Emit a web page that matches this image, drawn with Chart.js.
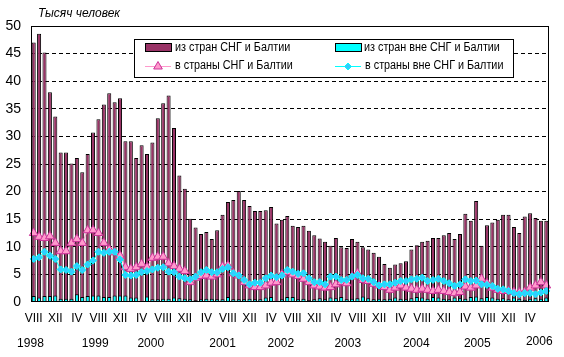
<!DOCTYPE html>
<html><head><meta charset="utf-8">
<script src="https://cdn.jsdelivr.net/npm/chart.js@4/dist/chart.umd.min.js"></script>
<style>html,body{margin:0;padding:0;background:#fff;}#wrap{width:564px;height:357px;position:relative;}</style>
</head><body><div id="wrap"><canvas id="c" width="564" height="357"></canvas></div>
<script>
// Months: August 1998 .. July 2006
const romanMonths = ['I','II','III','IV','V','VI','VII','VIII','IX','X','XI','XII'];
const startMonthIndex = 7; // VIII
const monthCount = 96;
const categories = [];
for (let i = 0; i < monthCount; i++) categories.push(romanMonths[(startMonthIndex + i) % 12]);

const yearLabels = ['1998','1999','2000','2001','2002','2003','2004','2005','2006'];

// из стран СНГ и Балтии (bars)
const fromCIS = [
  47.0, 48.6, 45.2, 38.0, 33.6, 27.1, 27.1, 25.1, 26.1, 23.5, 26.8, 30.7, 33.1, 35.8, 37.8, 36.2,
  36.9, 29.1, 29.1, 26.1, 28.4, 26.8, 28.9, 33.3, 36.0, 37.4, 31.5, 22.9, 20.5, 15.1, 13.5, 12.3, 12.7,
  11.4, 13.0, 15.8, 18.1, 18.5, 20.1, 18.5, 17.4, 16.5, 16.5, 16.6, 17.2, 14.2, 14.9, 15.6, 13.8,
  13.6, 13.8, 12.9, 12.1, 11.5, 10.9, 10.2, 11.6, 9.9, 9.8, 11.4, 10.9, 9.9, 9.5, 8.9, 8.2,
  6.9, 6.2, 6.8, 7.0, 7.4, 9.5, 10.3, 10.9, 11.1, 11.6, 11.6, 12.1, 12.5, 11.4, 12.3, 16.0,
  14.7, 18.3, 10.2, 13.9, 14.4, 14.9, 15.8, 15.8, 13.6, 12.5, 15.5, 16.1, 15.2, 14.7, 14.7
];
// из стран вне СНГ и Балтии (bars)
const fromNonCIS = [
  1.1, 0.8, 1.1, 1.1, 1.2, 0.6, 0.6, 0.6, 1.4, 0.9, 1.1, 1.2, 1.2, 0.9, 0.9, 1.2, 1.2, 1.2, 0.8, 0.8,
  0.2, 1.0, 0.5, 0.5, 0.6, 0.6, 0.8, 0.7, 0.6, 0.5, 0.3, 0.5, 0.6,
  0.6, 0.5, 0.5, 0.9, 0.5, 0.5, 0.5, 0.6, 0.5, 0.5, 0.8, 0.9, 0.2, 0.5, 0.9, 0.9, 0.5, 0.6, 0.3, 0.5,
  0.7, 0.5, 0.8, 0.7, 0.9, 0.5, 0.6, 0.7, 1.0, 0.7, 0.5, 0.6,
  0.5, 0.6, 0.8, 0.6, 0.5, 0.7, 0.9, 0.8, 0.6, 0.9, 0.8, 0.6, 0.5, 0.8, 0.7, 0.6, 0.9, 1.0, 0.7, 0.9,
  0.8, 0.6, 0.7, 0.5, 0.8, 0.6, 0.4, 0.6, 0.7, 0.6, 0.8
];
// в страны СНГ и Балтии (line, triangles)
const toCIS = [
  12.5, 11.8, 11.6, 11.9, 10.7, 9.2, 9.2, 10.7, 11.4, 10.7, 13.0, 13.0, 12.5, 10.7, 9.5, 9.0, 8.4,
  6.3, 6.0, 6.3, 6.9, 6.3, 8.0, 8.2, 8.2, 7.0, 6.5, 6.0, 5.6, 3.6, 4.4, 4.7,
  4.8, 4.6, 5.0, 6.4, 6.6, 5.2, 4.8, 3.6, 3.0, 2.7, 2.7, 3.0, 3.5, 3.6, 5.0, 5.4, 5.0, 4.7, 4.2,
  3.6, 3.0, 2.8, 2.6, 2.7, 3.2, 3.6, 3.4, 4.6, 5.2, 4.0, 3.8, 3.3, 3.0,
  2.7, 2.2, 2.6, 3.0, 2.6, 2.4, 2.2, 2.4, 2.2, 2.0, 2.2, 2.0, 1.8, 1.6, 1.8, 2.8, 2.6, 3.0, 4.2,
  3.4, 2.6, 2.2, 2.0, 2.0, 1.8, 1.7, 1.8, 2.6, 3.0, 3.6, 3.0
];
// в страны вне СНГ и Балтии (line, diamonds)
const toNonCIS = [
  7.8, 8.1, 9.1, 8.4, 7.8, 5.9, 5.8, 5.5, 6.5, 5.8, 6.8, 7.5, 9.1, 8.9, 9.1, 9.1, 7.7, 4.9, 4.8,
  4.9, 5.4, 5.6, 5.9, 6.2, 6.3, 5.5, 5.4, 4.6, 4.3, 4.1, 4.6, 5.4, 5.8,
  5.4, 5.4, 6.0, 6.3, 5.2, 4.8, 4.0, 3.2, 3.5, 3.5, 4.3, 4.8, 4.5, 4.8, 5.8, 5.5, 5.1, 5.2, 4.3,
  3.6, 3.6, 3.2, 4.6, 4.6, 4.0, 4.0, 4.6, 4.9, 4.3, 4.2, 3.6, 3.0,
  3.2, 3.2, 3.5, 3.8, 3.8, 4.1, 4.2, 4.4, 3.8, 4.0, 4.2, 3.8, 3.4, 2.9, 3.2, 4.1, 3.8, 3.9, 3.2,
  3.1, 2.9, 2.4, 2.3, 2.0, 1.6, 1.4, 1.6, 1.6, 1.4, 1.7, 2.0
];

const seriesNames = ['из стран СНГ и Балтии','из стран вне СНГ и Балтии','в страны СНГ и Балтии','в страны вне СНГ и Балтии'];
const unitLabel = 'Тысяч человек';

const C_MAROON = '#993366', C_CYAN = '#00FFFF', C_PINK = '#FF99CC', C_PINK_EDGE = '#CC3399',
      C_DIAM = '#33CCFF', C_DIAM_LINE = '#00FFFF';
const FONT = "'Liberation Sans', Arial, sans-serif";

// fractional category positions for the year captions
const yearLabelPos = [-0.6, 11.4, 21.7, 35.0, 45.8, 58.2, 70.9, 82.2, 93.7];

function drawTri(ctx, x, y, r) {
  ctx.beginPath();
  ctx.moveTo(x, y - r);
  ctx.lineTo(x + r * 0.866, y + r * 0.5);
  ctx.lineTo(x - r * 0.866, y + r * 0.5);
  ctx.closePath();
  ctx.fillStyle = C_PINK; ctx.fill();
  ctx.strokeStyle = C_PINK_EDGE; ctx.lineWidth = 1; ctx.stroke();
}
function drawDiam(ctx, x, y, r) {
  ctx.beginPath();
  ctx.moveTo(x, y - r); ctx.lineTo(x + r, y); ctx.lineTo(x, y + r); ctx.lineTo(x - r, y);
  ctx.closePath();
  ctx.fillStyle = C_DIAM; ctx.fill();
  ctx.strokeStyle = C_DIAM_LINE; ctx.lineWidth = 1; ctx.stroke();
}
function squeezedText(ctx, text, x, y, sx) {
  ctx.save();
  ctx.translate(x, y); ctx.scale(sx, 1);
  ctx.fillText(text, 0, 0);
  ctx.restore();
}

const decor = {
  id: 'decor',
  afterDatasetsDraw(chart) {
    const ctx = chart.ctx, a = chart.chartArea;
    ctx.save();
    ctx.strokeStyle = '#000'; ctx.lineWidth = 1;
    ctx.strokeRect(Math.round(a.left) + 0.5, Math.round(a.top) + 0.5, Math.round(a.right - a.left) - 1, Math.round(a.bottom - a.top) - 1);
    // legend
    const bx = 134.5, by = 39.5, bw = 379, bh = 38;
    ctx.fillStyle = '#fff'; ctx.fillRect(bx, by, bw, bh);
    ctx.strokeStyle = '#000'; ctx.strokeRect(bx, by, bw, bh);
    ctx.font = '12px ' + FONT; ctx.textBaseline = 'middle'; ctx.textAlign = 'left';
    const r1 = 48, r2 = 66, c1 = 145, c2 = 335, sw = 26;
    // row 1 bars
    ctx.fillStyle = C_MAROON; ctx.fillRect(c1 + 0.5, r1 - 4.5, sw, 8); ctx.strokeStyle = '#000'; ctx.strokeRect(c1 + 0.5, r1 - 4.5, sw, 8);
    ctx.fillStyle = C_CYAN; ctx.fillRect(c2 + 0.5, r1 - 4.5, sw, 8); ctx.strokeRect(c2 + 0.5, r1 - 4.5, sw, 8);
    ctx.fillStyle = '#000';
    squeezedText(ctx, seriesNames[0], c1 + 30, r1, 0.9);
    squeezedText(ctx, seriesNames[1], c2 + 29, r1, 0.9);
    // row 2 lines
    ctx.strokeStyle = C_PINK; ctx.beginPath(); ctx.moveTo(c1, r2 + 0.5); ctx.lineTo(c1 + sw, r2 + 0.5); ctx.stroke();
    drawTri(ctx, c1 + 13, r2 + 0.5, 5);
    ctx.strokeStyle = C_DIAM_LINE; ctx.beginPath(); ctx.moveTo(c2, r2 + 0.5); ctx.lineTo(c2 + sw, r2 + 0.5); ctx.stroke();
    drawDiam(ctx, c2 + 13, r2 + 0.5, 3.5);
    ctx.fillStyle = '#000';
    squeezedText(ctx, seriesNames[2], c1 + 30, r2, 0.9);
    squeezedText(ctx, seriesNames[3], c2 + 30, r2, 0.9);
    // unit caption
    ctx.font = 'italic 12px ' + FONT;
    ctx.fillText(unitLabel, 38, 14);
    // year captions
    ctx.font = '12px ' + FONT; ctx.textAlign = 'center';
    const xs = chart.scales.x;
    yearLabels.forEach((t, i) => {
      const x = xs.getPixelForValue(yearLabelPos[i]);
      ctx.fillText(t, x, i === yearLabels.length - 1 ? 342 : 344);
    });
    ctx.restore();
  }
};

new Chart(document.getElementById('c'), {
  data: {
    labels: categories,
    datasets: [
      { type: 'line', label: seriesNames[3], data: toNonCIS, order: 1, borderColor: C_DIAM_LINE, borderWidth: 1,
        pointStyle: 'rectRot', pointRadius: 3.5, pointBackgroundColor: C_DIAM, pointBorderColor: C_DIAM_LINE, pointBorderWidth: 1, tension: 0 },
      { type: 'line', label: seriesNames[2], data: toCIS, order: 2, borderColor: C_PINK, borderWidth: 1,
        pointStyle: 'triangle', pointRadius: 5, pointBackgroundColor: C_PINK, pointBorderColor: C_PINK_EDGE, pointBorderWidth: 1, tension: 0 },
      { type: 'bar', label: seriesNames[1], data: fromNonCIS, order: 3, backgroundColor: C_CYAN, borderColor: '#000', borderWidth: 1,
        categoryPercentage: 1, barPercentage: 0.75 },
      { type: 'bar', label: seriesNames[0], data: fromCIS, order: 4, backgroundColor: C_MAROON, borderColor: '#000', borderWidth: 1,
        categoryPercentage: 1, barPercentage: 0.75 }
    ]
  },
  options: {
    responsive: false, animation: false, devicePixelRatio: 1,
    layout: { padding: { left: 0, top: 26, right: 15, bottom: 0 } },
    plugins: { legend: { display: false }, tooltip: { enabled: false } },
    scales: {
      x: {
        type: 'category', stacked: true, offset: true,
        grid: { display: false, drawTicks: false }, border: { display: false },
        ticks: { autoSkip: false, maxRotation: 0, minRotation: 0, padding: 9, color: '#000', font: { family: FONT, size: 12 },
          callback: (v, i) => (i % 4 === 0 ? categories[i] : '') },
        afterFit: s => { s.height = 55; }
      },
      y: {
        min: 0, max: 50, stacked: false,
        ticks: { stepSize: 5, padding: 10, color: '#000', font: { family: FONT, size: 14 } },
        grid: { drawTicks: false, lineWidth: 1, color: c => (c.tick && (c.tick.value === 0 || c.tick.value === 50)) ? 'rgba(0,0,0,0)' : '#000' },
        border: { display: false, dash: [4, 3] },
        afterFit: s => { s.width = 31; }
      }
    }
  },
  plugins: [decor]
});
</script></body></html>
